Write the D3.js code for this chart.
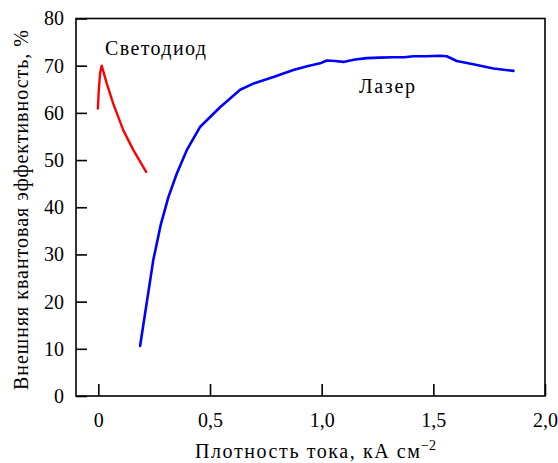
<!DOCTYPE html>
<html><head><meta charset="utf-8"><script src="https://cdn.jsdelivr.net/npm/d3@7"></script></head>
<body style="margin:0">
<svg id="chart" width="558" height="463"></svg>
<script>
// ---- Data ----
const laserX = [0.187, 0.246, 0.279, 0.314, 0.351, 0.396, 0.455, 0.545, 0.635, 0.694, 0.784, 0.873, 0.935, 0.993, 1.023, 1.060, 1.097, 1.150, 1.202, 1.260, 1.321, 1.370, 1.411, 1.470, 1.530, 1.560, 1.605, 1.679, 1.769, 1.859];
const laserY = [10.6, 28.8, 36.2, 42.2, 47.1, 52.1, 57.0, 61.2, 64.9, 66.2, 67.6, 69.1, 69.9, 70.5, 71.1, 71.0, 70.8, 71.3, 71.6, 71.7, 71.8, 71.8, 72.0, 72.0, 72.1, 72.0, 71.0, 70.3, 69.4, 68.9];

const ledX = [-0.002, 0.002, 0.008, 0.015, 0.038, 0.067, 0.112, 0.157, 0.214];
const ledY = [60.9, 64.8, 68.5, 70.0, 66.2, 61.9, 56.3, 52.1, 47.5];

const xTicks = [0, 0.5, 1.0, 1.5, 2.0];
const xTickLabels = ["0", "0,5", "1,0", "1,5", "2,0"];
const yTicks = [0, 10, 20, 30, 40, 50, 60, 70, 80];
const yTickLabels = ["0", "10", "20", "30", "40", "50", "60", "70", "80"];

const seriesNames = ["Светодиод", "Лазер"];
const xTitle = "Плотность тока, кА см";
const xTitleSup = "−2";
const yTitle = "Внешняя квантовая эффективность, %";

const FONT = '"Liberation Serif"';

// ---- Layout ----
const svg = d3.select("#chart");
const L = 76, R = 545, T = 18.5, B = 396;

const x = d3.scaleLinear().domain([-0.1, 2.0]).range([L, R]);
const y = d3.scaleLinear().domain([0, 80]).range([B, T]);

// frame
svg.append("rect")
  .attr("x", L).attr("y", T)
  .attr("width", R - L).attr("height", B - T)
  .attr("fill", "none").attr("stroke", "#000").attr("stroke-width", 1.6);

// axes
const xAxis = d3.axisBottom(x)
  .tickValues(xTicks)
  .tickFormat((d, i) => xTickLabels[i])
  .tickSizeInner(-12).tickSizeOuter(0).tickPadding(17);
const gx = svg.append("g").attr("transform", `translate(0,${B})`).call(xAxis);

const yAxis = d3.axisLeft(y)
  .tickValues(yTicks)
  .tickFormat((d, i) => yTickLabels[i])
  .tickSizeInner(-11).tickSizeOuter(0).tickPadding(12);
const gy = svg.append("g").attr("transform", `translate(${L},0)`).call(yAxis);

[gx, gy].forEach(g => {
  g.attr("font-family", null).attr("font-size", null);
  g.select(".domain").remove();
  g.selectAll(".tick line").attr("stroke", "#000").attr("stroke-width", 1.6);
  g.selectAll(".tick text")
    .style("font-family", FONT)
    .style("font-size", "20px").attr("fill", "#000");
});

// lines
const line = d3.line().x(d => x(d[0])).y(d => y(d[1])).curve(d3.curveLinear);
const laser = laserX.map((v, i) => [v, laserY[i]]);
const led = ledX.map((v, i) => [v, ledY[i]]);

svg.append("path").datum(led)
  .attr("d", line).attr("fill", "none")
  .attr("stroke", "#ff0000").attr("stroke-width", 2.4)
  .attr("stroke-linejoin", "round").attr("stroke-linecap", "round");

svg.append("path").datum(laser)
  .attr("d", line).attr("fill", "none")
  .attr("stroke", "#0000ff").attr("stroke-width", 2.6)
  .attr("stroke-linejoin", "round").attr("stroke-linecap", "round");

// series labels
svg.append("text").attr("x", 105).attr("y", 55)
  .attr("textLength", 101).attr("lengthAdjust", "spacing")
  .style("font-family", FONT).style("font-size", "20px").text(seriesNames[0]);
svg.append("text").attr("x", 359).attr("y", 92.5)
  .attr("textLength", 56).attr("lengthAdjust", "spacing")
  .style("font-family", FONT).style("font-size", "20px").text(seriesNames[1]);

// axis titles
svg.append("text")
  .attr("x", 195).attr("y", 458)
  .attr("textLength", 225).attr("lengthAdjust", "spacing")
  .style("font-family", FONT).style("font-size", "20px")
  .text(xTitle);
svg.append("text")
  .attr("x", 421).attr("y", 450)
  .style("font-family", FONT).style("font-size", "14px")
  .text(xTitleSup);

svg.append("text")
  .attr("transform", `translate(28,390) rotate(-90)`)
  .attr("x", 0).attr("y", 0)
  .attr("textLength", 360).attr("lengthAdjust", "spacing")
  .style("font-family", FONT).style("font-size", "20px")
  .text(yTitle);
</script>
</body>
</html>
